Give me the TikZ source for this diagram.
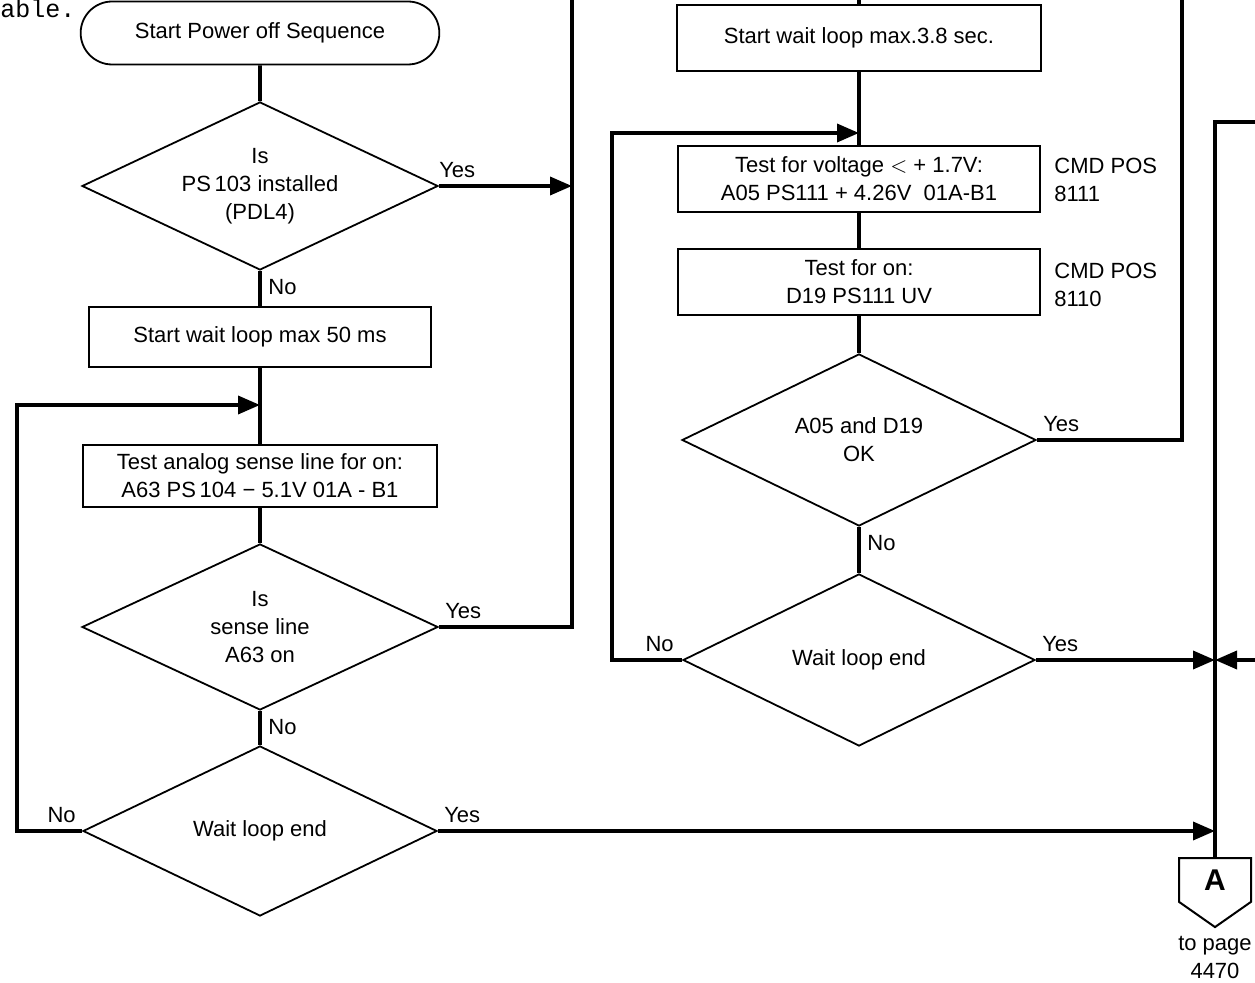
\documentclass[tikz,border=0pt]{standalone}
\usepackage{fontspec}
\setmainfont{Liberation Sans}
\setmonofont{Liberation Mono}
\usetikzlibrary{shapes.geometric,shapes.misc,shapes.symbols,arrows.meta,positioning}

\tikzset{
  flow/.style={line width=1.8pt},
  arr/.style={flow, -{Triangle[length=11pt,width=9pt]}},
  proc/.style={draw, line width=0.9pt, align=center, inner sep=2pt},
  decide/.style={draw, diamond, aspect=2, line width=0.9pt, align=center, inner sep=1pt},
  term/.style={draw, rounded rectangle, line width=0.9pt, minimum width=186pt, minimum height=31.5pt},
  lbl/.style={inner sep=0pt},
  offpage/.style={draw, signal, signal to=south, signal from=nowhere, signal pointer angle=110,
    line width=1pt, minimum width=36pt, minimum height=28pt, font=\bfseries\fontsize{15}{15}\selectfont},
}

\begin{document}
\begin{tikzpicture}[x=0.5pt,y=-0.5pt,font=\fontsize{11}{14}\selectfont]
  \useasboundingbox (0,0) rectangle (1255,983);

  %text cut off at the page edge
  \node[lbl, anchor=base west, font=\ttfamily\fontsize{12.5}{14}\selectfont] (cut) at (0,18) {able.};

  %left column
  \node[term] (start) at (260,33) {Start Power off Sequence};
  \node[decide, minimum width=178pt, minimum height=84pt] (isps) at (260,186) {Is\\PS\,103 installed\\(PDL4)};
  \node[proc, minimum width=171pt, minimum height=30pt] (wait50) at (260,337) {Start wait loop max 50 ms};
  \node[proc, minimum width=177pt, minimum height=31pt] (testA63) at (260,476) {Test analog sense line for on:\\A63 PS\,104 − 5.1V 01A - B1};
  \node[decide, minimum width=178pt, minimum height=83pt] (isA63) at (260,627) {Is\\sense line\\A63 on};
  \node[decide, minimum width=177pt, minimum height=85pt] (endL) at (260,831) {Wait loop end};

  %right column
  \node[proc, minimum width=182pt, minimum height=33pt] (wait38) at (859,38) {Start wait loop max.3.8 sec.};
  \node[proc, minimum width=181pt, minimum height=33pt] (test17) at (859,179) {Test for voltage $<$ + 1.7V:\\A05 PS111 + 4.26V\ \ 01A-B1};
  \node[proc, minimum width=181pt, minimum height=33pt] (testUV) at (859,282) {Test for on:\\D19 PS111 UV};
  \node[decide, minimum width=177pt, minimum height=86pt] (isOK) at (859,440) {A05 and D19\\OK};
  \node[decide, minimum width=176pt, minimum height=86pt] (endR) at (859,660) {Wait loop end};
  \node[anchor=west, align=left, inner sep=0pt] (pos1) at (1054,180) {CMD POS\\8111};
  \node[anchor=west, align=left, inner sep=0pt] (pos2) at (1054,285) {CMD POS\\8110};

  %off page connector
  \node[offpage] (conA) at (1215,880) {A};
  \node[align=center, inner sep=0pt, below=4pt of conA] (topage) {to page\\4470};

  %free line ends
  \coordinate (upL) at (572,0);
  \coordinate (joinL) at (260,405);
  \coordinate (lpL) at (17,405);
  \coordinate (topR) at (859,0);
  \coordinate (joinR) at (859,133);
  \coordinate (lpR) at (612,133);
  \coordinate (upR) at (1182,0);
  \coordinate (inA) at (1255,122);
  \coordinate (inB) at (1255,660);

  %draw flow lines
  \draw[flow] (start) -- (isps);
  \draw[flow] (isps) -- (wait50);
  \draw[flow] (wait50) -- (testA63);
  \draw[flow] (testA63) -- (isA63);
  \draw[flow] (isA63) -- (endL);
  \draw[arr] (isps.east) -- (isps.east -| upL);
  \draw[flow] (isA63.east) -| (upL);
  \draw[arr] (endL.west) -| (lpL) -- (joinL);
  \draw[arr] (endL.east) -- (endL.east -| conA);

  \draw[flow] (topR) -- (wait38);
  \draw[flow] (wait38) -- (test17);
  \draw[flow] (test17) -- (testUV);
  \draw[flow] (testUV) -- (isOK);
  \draw[flow] (isOK) -- (endR);
  \draw[arr] (endR.west) -| (lpR) -- (joinR);
  \draw[flow] (isOK.east) -| (upR);
  \draw[arr] (endR.east) -- (endR.east -| conA);
  \draw[arr] (inB) -- (inB -| conA);
  \draw[flow] (inA) -| (conA.north);

  %draw labels
  \node[lbl, above right=4pt and 0pt of isps.east] (yes1) {Yes};
  \node[lbl, below right=4pt and 4pt of isps.south] (no1) {No};
  \node[lbl, above right=4pt and 3pt of isA63.east] (yes2) {Yes};
  \node[lbl, below right=4pt and 4pt of isA63.south] (no2) {No};
  \node[lbl, above right=4pt and 3pt of endL.east] (yes3) {Yes};
  \node[lbl, above left=4pt and 3pt of endL.west] (no3) {No};
  \node[lbl, above right=4pt and 3pt of isOK.east] (yes4) {Yes};
  \node[lbl, below right=4pt and 4pt of isOK.south] (no4) {No};
  \node[lbl, above right=4pt and 3pt of endR.east] (yes5) {Yes};
  \node[lbl, above left=4pt and 4pt of endR.west] (no5) {No};
\end{tikzpicture}
\end{document}
